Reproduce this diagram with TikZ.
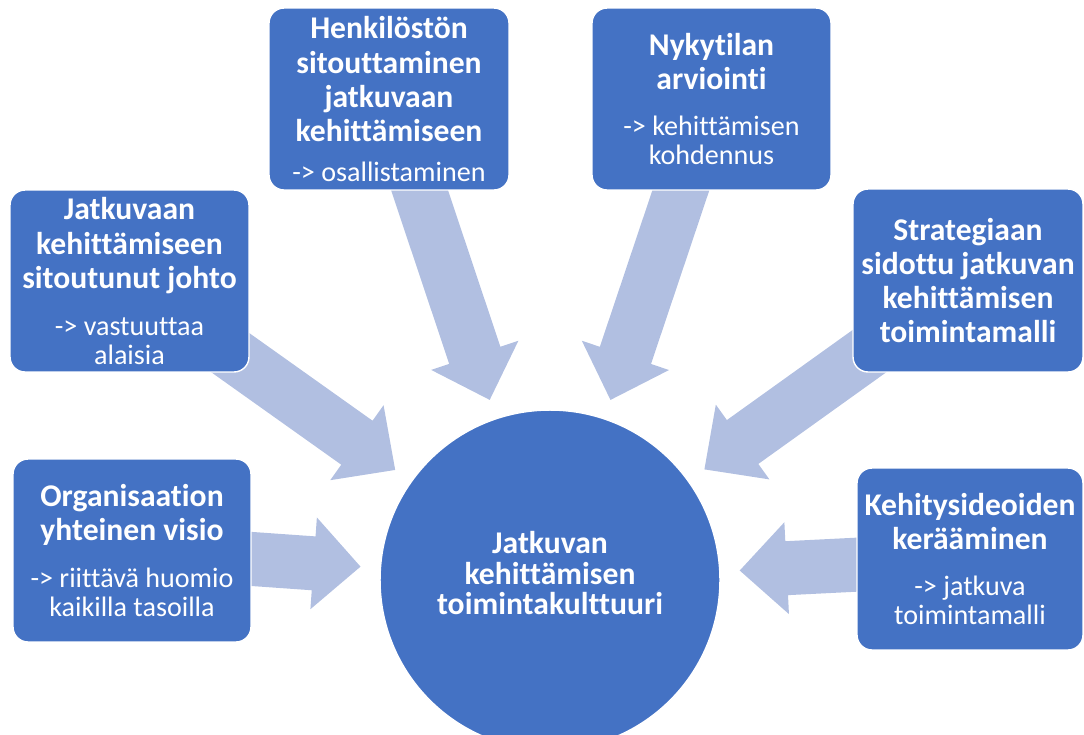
\documentclass[tikz,border=0pt]{standalone}
\usepackage{fontspec}
\setmainfont{Carlito}[Ligatures={TeX,NoCommon}]
\usetikzlibrary{calc,backgrounds}
\definecolor{boxblue}{RGB}{68,114,196}
\definecolor{arrowblue}{RGB}{177,191,225}
\newcommand{\boxtitle}{\fontsize{18}{19.5}\selectfont\bfseries}
\newcommand{\boxnote}{\fontsize{16}{16.5}\selectfont\mdseries}
% block arrow from #1 to tip #2
\newcommand{\blockarrow}[2]{%
  \coordinate (h) at ($(#2)!0.94cm!(#1)$);
  \fill[arrowblue] ($(#1)!0.54cm!-90:(#2)$) -- ($(h)!0.54cm!-90:(#2)$)
    -- ($(h)!0.92cm!-90:(#2)$) -- (#2) -- ($(h)!0.92cm!90:(#2)$)
    -- ($(h)!0.54cm!90:(#2)$) -- ($(#1)!0.54cm!90:(#2)$) -- cycle;
}
\begin{document}
\begin{tikzpicture}[x=0.02cm,y=-0.02cm,
    box/.style={rectangle,rounded corners=0.3cm,fill=boxblue,draw=white,line width=0.8pt,
        text=white,align=center,inner sep=0pt,minimum width=4.78cm,minimum height=3.64cm,
        font=\boxtitle},
    hub/.style={circle,fill=boxblue,draw=white,line width=0.8pt,text=white,align=center,
        inner sep=0pt,minimum size=6.8cm,font=\boxtitle,text depth=0.28cm}]
\clip (0,0) rectangle (1084,734);
\node[hub] (kulttuuri) at (550,580) {Jatkuvan\\[-2pt] kehittämisen\\[-2pt] toimintakulttuuri};
\node[box] (johto) at (129.5,281)
    {Jatkuvaan\\ kehittämiseen\\ sitoutunut johto\\[7pt] \boxnote -> vastuuttaa\\[-3pt] \boxnote alaisia};
\node[box,minimum width=4.76cm,minimum height=3.66cm] (visio) at (132,550.5)
    {Organisaation\\ yhteinen visio\\[7pt] \boxnote -> riittävä huomio\\[-3pt] \boxnote kaikilla tasoilla};
\node[box,minimum width=4.8cm] (henkilosto) at (389,99)
    {Henkilöstön\\ sitouttaminen\\ jatkuvaan\\ kehittämiseen\\[3pt] \boxnote -> osallistaminen};
\node[box] (nykytila) at (711.5,99)
    {Nykytilan\\ arviointi\\[7pt] \boxnote -> kehittämisen\\[-3pt] \boxnote kohdennus};
\node[box,minimum width=4.6cm,minimum height=3.66cm] (strategia) at (968,280.5)
    {Strategiaan\\ sidottu jatkuvan\\ kehittämisen\\ toimintamalli};
\node[box,minimum width=4.52cm] (ideat) at (970,559)
    {Kehitysideoiden\\ kerääminen\\[7pt] \boxnote -> jatkuva\\[-3pt] \boxnote toimintamalli};
\begin{scope}[on background layer]
    \foreach \b in {johto,visio,henkilosto,nykytila,strategia,ideat}
    {
        \coordinate (\b-tip) at ($(kulttuuri.center)!3.8cm!(\b.center)$);
        \blockarrow{\b.center}{\b-tip}
    }
\end{scope}
\end{tikzpicture}
\end{document}
